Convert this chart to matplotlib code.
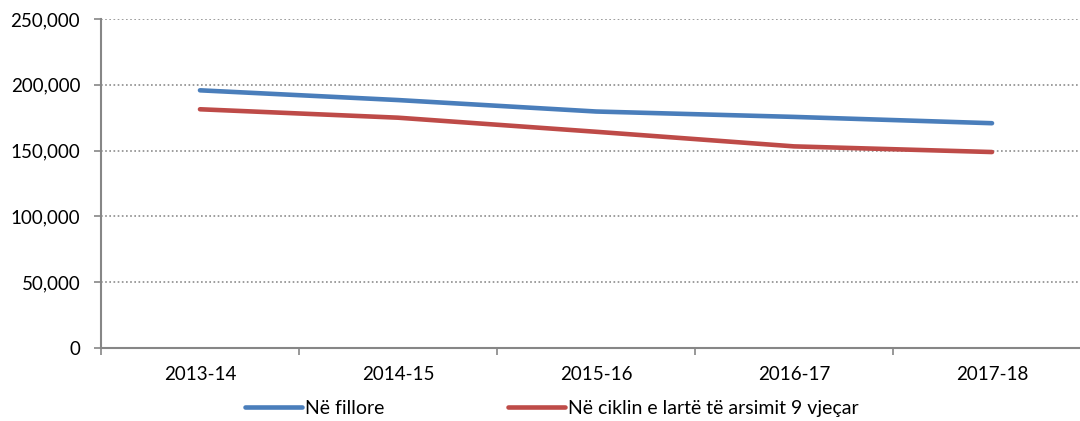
import matplotlib.pyplot as plt
from matplotlib.ticker import FuncFormatter, FixedLocator

years = ['2013-14', '2014-15', '2015-16', '2016-17', '2017-18']
fillore = [195800, 188400, 179700, 175600, 170800]
cikli_larte = [181400, 175000, 164300, 153200, 148900]

plt.rcParams['font.family'] = ['Lato', 'DejaVu Sans']

fig = plt.figure(figsize=(10.8, 4.21), dpi=100)
ax = fig.add_axes([0.0935, 0.1734, 0.9167, 0.7815])

x = list(range(len(years)))
ax.plot(x, fillore, color='#4A7EBB', lw=3.3, solid_capstyle='round', label='Në fillore')
ax.plot(x, cikli_larte, color='#BE4B48', lw=3.3, solid_capstyle='round',
        label='Në ciklin e lartë të arsimit 9 vjeçar')

ax.set_xlim(-0.5, len(years) - 0.5)
ax.set_ylim(0, 250000)
ax.set_yticks(range(0, 250001, 50000))
ax.yaxis.set_major_formatter(FuncFormatter(lambda v, p: f'{int(v):,}'))
ax.set_xticks(x)
ax.set_xticklabels(years)
ax.xaxis.set_minor_locator(FixedLocator([i - 0.5 for i in range(len(years) + 1)]))

ax.tick_params(axis='x', which='major', length=0, pad=13, labelsize=13.5)
ax.tick_params(axis='x', which='minor', length=5, color='#868686', width=1.2)
ax.tick_params(axis='y', length=5, color='#868686', width=1.2, pad=10, labelsize=13.5)

for y in range(50000, 250001, 50000):
    ax.axhline(y, color='#8c8c8c', lw=1.2, ls=(0, (1, 1.5)), zorder=0)

for s in ['top', 'right']:
    ax.spines[s].set_visible(False)
for s in ['left', 'bottom']:
    ax.spines[s].set_color('#868686')
    ax.spines[s].set_linewidth(1.5)

fig.legend(loc='center', bbox_to_anchor=(0.511, 0.03), ncol=2, frameon=False,
           fontsize=14, handlelength=2.9, handletextpad=0.15, columnspacing=6.4)

fig.savefig('out.png', dpi=100)
